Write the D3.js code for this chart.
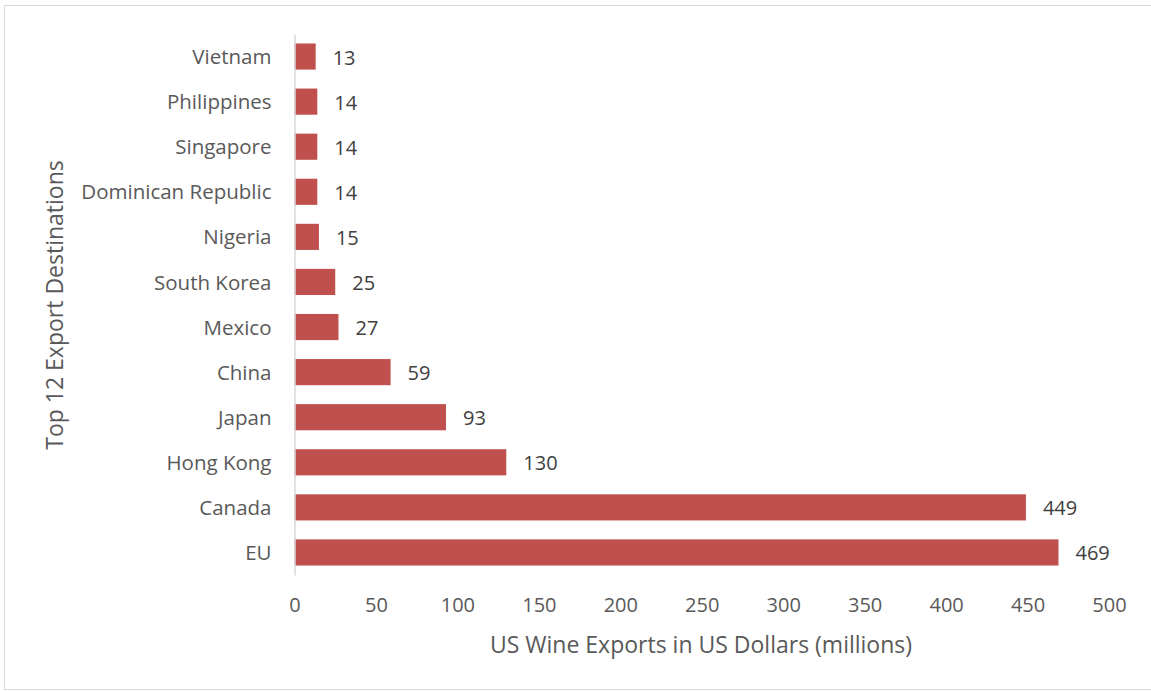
<!DOCTYPE html>
<html><head><meta charset="utf-8">
<script src="https://cdn.jsdelivr.net/npm/d3@7"></script>
<style>body{margin:0;background:#fff;} text{font-family:"Open Sans",sans-serif;}</style>
</head><body>
<svg id="c" width="1151" height="691"></svg>
<script>
const categories = ["Vietnam","Philippines","Singapore","Dominican Republic","Nigeria","South Korea","Mexico","China","Japan","Hong Kong","Canada","EU"];
const values = [13,14,14,14,15,25,27,59,93,130,449,469];
const xTicks = [0,50,100,150,200,250,300,350,400,450,500];
const xTitle = "US Wine Exports in US Dollars (millions)";
const yTitle = "Top 12 Export Destinations";

const svg = d3.select("#c");
svg.append("rect").attr("x",4.5).attr("y",5.5).attr("width",1150).attr("height",684)
  .attr("fill","#fff").attr("stroke","#D9D9D9").attr("stroke-width",1);

const x = d3.scaleLinear().domain([0,500]).range([294.5,1109]);
const y = d3.scaleBand().domain(categories).range([34,575]).paddingInner(0.42).paddingOuter(0.21);

svg.selectAll("rect.bar").data(values).enter().append("rect").attr("class","bar")
  .attr("x",x(0)).attr("y",(d,i)=>y(categories[i]))
  .attr("width",d=>x(d)-x(0)).attr("height",y.bandwidth())
  .attr("fill","#C0504D");

svg.selectAll("text.val").data(values).enter().append("text").attr("class","val")
  .attr("x",d=>x(d)+17).attr("y",(d,i)=>y(categories[i])+y.bandwidth()/2+1)
  .attr("dy","0.35em").attr("font-size",20).attr("fill","#404040").text(d=>d);

const yAxis = svg.append("g").attr("transform",`translate(${x(0)},1)`)
  .call(d3.axisLeft(y).tickSize(0).tickPadding(23));
yAxis.select(".domain").attr("stroke","#D9D9D9").attr("stroke-width",1.5).attr("transform","translate(0,-1)");
yAxis.selectAll("text").attr("font-size",20.5).attr("fill","#595959").attr("font-family","'Open Sans',sans-serif");

const xAxis = svg.append("g").attr("transform","translate(0,575)")
  .call(d3.axisBottom(x).tickValues(xTicks).tickSize(0).tickPadding(23));
xAxis.select(".domain").remove();
xAxis.selectAll("text").attr("font-size",20).attr("fill","#595959").attr("font-family","'Open Sans',sans-serif");

svg.append("text").attr("x",701).attr("y",645).attr("dy","0.35em").attr("text-anchor","middle")
  .attr("font-size",23).attr("fill","#595959").text(xTitle);
svg.append("text").attr("transform","translate(55,305) rotate(-90)").attr("dy","0.35em").attr("text-anchor","middle")
  .attr("font-size",23).attr("fill","#595959").text(yTitle);
</script>
</body></html>
